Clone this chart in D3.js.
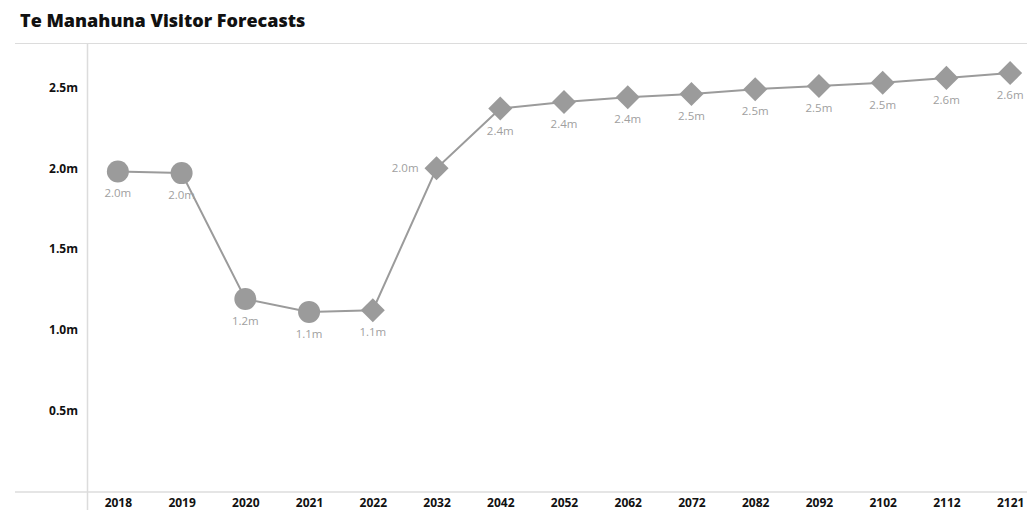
<!DOCTYPE html>
<html>
<head>
<meta charset="utf-8">
<script src="https://cdn.jsdelivr.net/npm/d3@7"></script>
<style>
  html, body { margin: 0; padding: 0; background: #fff; }
  svg { display: block; font-family: "Open Sans", sans-serif; }
</style>
</head>
<body>
<svg id="chart" width="1027" height="510"></svg>
<script>
// Visitor numbers (millions) by year; early years are actuals, later ones forecasts
const years = ["2018", "2019", "2020", "2021", "2022", "2032", "2042", "2052",
               "2062", "2072", "2082", "2092", "2102", "2112", "2121"];
const visitors = [1.98, 1.97, 1.19, 1.11, 1.12, 2.00, 2.37, 2.41,
                  2.44, 2.46, 2.49, 2.51, 2.53, 2.56, 2.59];
// marker type per point: actuals drawn as circles, forecasts as diamonds
const kinds = ["actual", "actual", "actual", "actual", "forecast", "forecast", "forecast", "forecast",
               "forecast", "forecast", "forecast", "forecast", "forecast", "forecast", "forecast"];
// label placement per point
const labelPos = ["below", "below", "below", "below", "below", "left", "below", "below",
                  "below", "below", "below", "below", "below", "below", "below"];
const yTicks = [0.5, 1.0, 1.5, 2.0, 2.5];
const title = "Te Manahuna Visitor Forecasts";

const data = years.map((y, i) => ({ year: y, value: visitors[i], kind: kinds[i], pos: labelPos[i] }));

const svg = d3.select("#chart");
const W = 1027, H = 510;
const plot = { left: 86, right: 1042, top: 44, bottom: 491 };
const grey = "#9b9b9b";

const x = d3.scalePoint().domain(years).range([plot.left, plot.right]).padding(0.5);
const y = d3.scaleLinear().domain([0, 2.77]).range([plot.bottom, plot.top]);

// Title and rule beneath it
svg.append("text")
  .attr("x", 20).attr("y", 27)
  .attr("font-size", 18).attr("font-weight", 800).attr("fill", "#111")
  .text(title);
svg.append("line")
  .attr("x1", 15).attr("x2", W).attr("y1", 43.5).attr("y2", 43.5)
  .attr("stroke", "#dcdcdc").attr("stroke-width", 1);

// Y axis
const yAxis = svg.append("g")
  .attr("transform", `translate(${plot.left + 1},0)`)
  .call(d3.axisLeft(y).tickValues(yTicks).tickSize(0).tickPadding(9)
    .tickFormat(d => d3.format(".1f")(d) + "m"));
yAxis.select(".domain").remove();
yAxis.selectAll("text")
  .attr("font-size", 12).attr("font-weight", 700).attr("fill", "#111")
  .attr("font-family", "Open Sans, sans-serif");
svg.append("line")
  .attr("x1", plot.left + 1.5).attr("x2", plot.left + 1.5)
  .attr("y1", 44).attr("y2", H)
  .attr("stroke", "#dcdcdc").attr("stroke-width", 1.5);

// X axis
const xAxis = svg.append("g")
  .attr("transform", `translate(0,${plot.bottom + 1})`)
  .call(d3.axisBottom(x).tickSize(0).tickPadding(6));
xAxis.select(".domain").remove();
xAxis.selectAll("text")
  .attr("font-size", 12).attr("font-weight", 700).attr("fill", "#111")
  .attr("font-family", "Open Sans, sans-serif");
svg.append("line")
  .attr("x1", 15).attr("x2", W).attr("y1", plot.bottom + 1).attr("y2", plot.bottom + 1)
  .attr("stroke", "#dcdcdc").attr("stroke-width", 1.5);

// Series line
svg.append("path")
  .datum(data)
  .attr("fill", "none").attr("stroke", grey).attr("stroke-width", 2)
  .attr("d", d3.line().x(d => x(d.year)).y(d => y(d.value)));

// Markers
const circleSym = d3.symbol().type(d3.symbolCircle).size(Math.PI * 11 * 11);
const diamondSym = d3.symbol().type(d3.symbolSquare).size(17 * 17);
svg.append("g").selectAll("path")
  .data(data)
  .join("path")
  .attr("transform", d => `translate(${x(d.year)},${y(d.value)})` + (d.kind === "forecast" ? " rotate(45)" : ""))
  .attr("d", d => d.kind === "actual" ? circleSym() : diamondSym())
  .attr("fill", grey);

// Value labels
svg.append("g").selectAll("text")
  .data(data)
  .join("text")
  .attr("x", d => d.pos === "left" ? x(d.year) - 18 : x(d.year))
  .attr("y", d => d.pos === "left" ? y(d.value) + 4 : y(d.value) + 26)
  .attr("text-anchor", d => d.pos === "left" ? "end" : "middle")
  .attr("font-size", 11.5).attr("fill", "#a0a0a0")
  .text(d => d3.format(".1f")(d.value) + "m");
</script>
</body>
</html>
